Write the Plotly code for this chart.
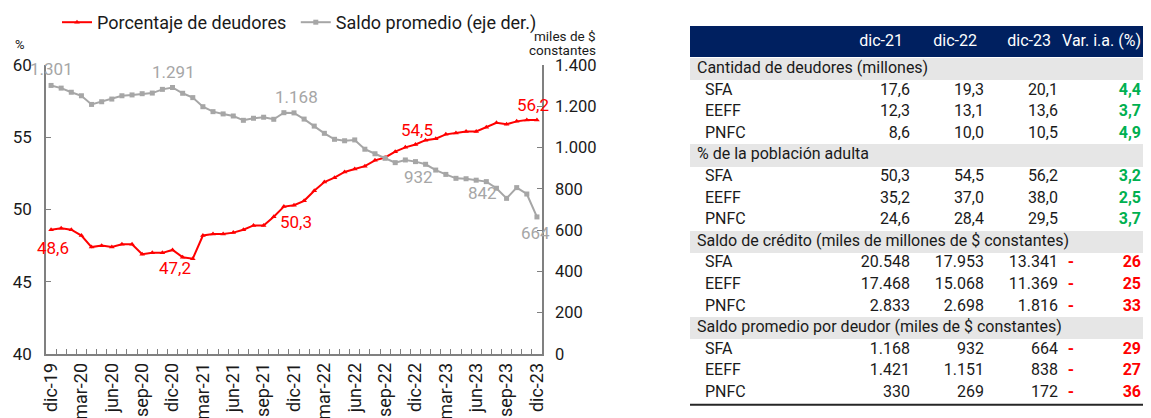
import plotly.graph_objects as go

# The page body adds an 8px offset; all positions below are given in window pixels
OFF = 8
WIN_W, WIN_H = 1151, 418
W, H = WIN_W - OFF, WIN_H - OFF


def px(x):
    return (x - OFF) / W


def py(y):
    return 1 - (y - OFF) / H


# ---------------- data: chart ----------------
categories = [
    "dic-19", "ene-20", "feb-20", "mar-20", "abr-20", "may-20", "jun-20", "jul-20", "ago-20", "sep-20", "oct-20", "nov-20",
    "dic-20", "ene-21", "feb-21", "mar-21", "abr-21", "may-21", "jun-21", "jul-21", "ago-21", "sep-21", "oct-21", "nov-21",
    "dic-21", "ene-22", "feb-22", "mar-22", "abr-22", "may-22", "jun-22", "jul-22", "ago-22", "sep-22", "oct-22", "nov-22",
    "dic-22", "ene-23", "feb-23", "mar-23", "abr-23", "may-23", "jun-23", "jul-23", "ago-23", "sep-23", "oct-23", "nov-23",
    "dic-23",
]
porcentaje_deudores = [
    48.6, 48.7, 48.6, 48.2, 47.4, 47.5, 47.4, 47.6, 47.6, 46.9, 47.0, 47.0,
    47.2, 46.7, 46.6, 48.2, 48.3, 48.3, 48.4, 48.6, 48.9, 48.9, 49.5, 50.2,
    50.3, 50.6, 51.3, 51.9, 52.2, 52.6, 52.8, 53.0, 53.4, 53.6, 54.0, 54.3,
    54.5, 54.8, 54.9, 55.2, 55.3, 55.4, 55.4, 55.7, 56.0, 55.9, 56.1, 56.2,
    56.2,
]
saldo_promedio = [
    1301, 1288, 1268, 1251, 1209, 1222, 1235, 1251, 1255, 1261, 1264, 1282,
    1291, 1263, 1242, 1198, 1174, 1163, 1153, 1132, 1142, 1147, 1137, 1169,
    1168, 1138, 1104, 1069, 1040, 1033, 1037, 992, 970, 948, 927, 940,
    932, 919, 891, 870, 851, 849, 842, 835, 803, 754, 806, 775,
    664,
]
x_tick_labels = ["dic-19", "mar-20", "jun-20", "sep-20", "dic-20", "mar-21", "jun-21", "sep-21",
                 "dic-21", "mar-22", "jun-22", "sep-22", "dic-22", "mar-23", "jun-23", "sep-23", "dic-23"]
pct_labelled = ["dic-19", "dic-20", "dic-21", "dic-22", "dic-23"]
saldo_labelled = ["dic-19", "dic-20", "dic-21", "dic-22", "jun-23", "dic-23"]

# ---------------- data: table ----------------
table_header = ["dic-21", "dic-22", "dic-23", "Var. i.a. (%)"]
table_sections = [
    "Cantidad de deudores (millones)",
    "% de la población adulta",
    "Saldo de crédito (miles de millones de $ constantes)",
    "Saldo promedio por deudor (miles de $ constantes)",
]
table_entities = ["SFA", "EEFF", "PNFC"]
tbl_dic21 = [17.6, 12.3, 8.6, 50.3, 35.2, 24.6, 20548, 17468, 2833, 1168, 1421, 330]
tbl_dic22 = [19.3, 13.1, 10.0, 54.5, 37.0, 28.4, 17953, 15068, 2698, 932, 1151, 269]
tbl_dic23 = [20.1, 13.6, 10.5, 56.2, 38.0, 29.5, 13341, 11369, 1816, 664, 838, 172]
tbl_var = [4.4, 3.7, 4.9, 3.2, 2.5, 3.7, -26, -25, -33, -29, -27, -36]
section_decimals = [1, 1, 0, 0]


def fmt(v, dec):
    if dec:
        return f"{v:.{dec}f}".replace(".", ",")
    return f"{v:,.0f}".replace(",", ".")


FONT = "Roboto"
RED = "#FF0000"
GRAY = "#A6A6A6"
AXIS = "#808080"
TXT = "#1a1a1a"
GREEN = "#00B050"
NAVY = "#002060"
BAND = "#E6E6E6"

fig = go.Figure()

fig.add_trace(go.Scatter(
    x=categories, y=porcentaje_deudores, name="Porcentaje de deudores\u00a0",
    mode="lines+markers", line=dict(color=RED, width=2),
    marker=dict(symbol="triangle-up", size=5, color=RED),
    xaxis="x", yaxis="y", cliponaxis=False,
))
fig.add_trace(go.Scatter(
    x=categories, y=saldo_promedio, name="Saldo promedio (eje der.)",
    mode="lines+markers", line=dict(color=GRAY, width=2),
    marker=dict(symbol="square", size=5, color=GRAY),
    xaxis="x", yaxis="y2", cliponaxis=False,
))

annotations = []
pct_shift = {"dic-19": (2, -18), "dic-20": (2, -18), "dic-21": (2, -17), "dic-22": (2, 14), "dic-23": (-4, 15)}
for c in pct_labelled:
    i = categories.index(c)
    dx, dy = pct_shift[c]
    annotations.append(dict(x=c, y=porcentaje_deudores[i], xref="x", yref="y",
                            text=fmt(porcentaje_deudores[i], 1), showarrow=False,
                            xanchor="center", yanchor="middle",
                            xshift=dx, yshift=dy, font=dict(family=FONT, size=17, color=RED)))
saldo_shift = {"dic-19": (0, 16), "dic-20": (1, 16), "dic-21": (2, 16), "dic-22": (3, -15),
               "jun-23": (6, -13), "dic-23": (-1, -16)}
for c in saldo_labelled:
    i = categories.index(c)
    dx, dy = saldo_shift[c]
    annotations.append(dict(x=c, y=saldo_promedio[i], xref="x", yref="y2",
                            text=fmt(saldo_promedio[i], 0), showarrow=False,
                            xanchor="center", yanchor="middle",
                            xshift=dx, yshift=dy, font=dict(family=FONT, size=17, color=GRAY)))

annotations.append(dict(x=px(20), y=py(45), xref="paper", yref="paper", text="%", showarrow=False,
                        xanchor="center", yanchor="middle", font=dict(family=FONT, size=13, color=TXT)))
annotations.append(dict(x=px(598), y=py(36), xref="paper", yref="paper", text="miles de $",
                        showarrow=False, xanchor="right", yanchor="middle",
                        font=dict(family=FONT, size=13.5, color=TXT)))
annotations.append(dict(x=px(598), y=py(50), xref="paper", yref="paper", text="constantes",
                        showarrow=False, xanchor="right", yanchor="middle",
                        font=dict(family=FONT, size=13.5, color=TXT)))

# ---------------- table (hidden axes x2 / y3, 1 unit = 1 window px) ----------------
T_LEFT, T_RIGHT = 690, WIN_W
HEADER_Y, HEADER_H = 41.5, 31
ROW0_Y, ROW_H = 69, 21.6
COL_RIGHT = [910, 984, 1058]
HEAD_RIGHT = [903, 977, 1051, 1141]
SIGN_X, VAR_RIGHT = 1071, 1141
SEC_X, ENT_X = 697, 705
TFS = 16

fig.add_trace(go.Bar(orientation="h", y=[HEADER_Y], x=[T_RIGHT - T_LEFT], base=[T_LEFT], width=[HEADER_H],
                     marker=dict(color=NAVY, line=dict(width=0)), xaxis="x2", yaxis="y3",
                     showlegend=False, hoverinfo="skip"))
sec_rows = [ROW0_Y + ROW_H * 4 * k for k in range(len(table_sections))]
fig.add_trace(go.Bar(orientation="h", y=sec_rows, x=[T_RIGHT - T_LEFT] * len(sec_rows),
                     base=[T_LEFT] * len(sec_rows), width=[22.5] * len(sec_rows),
                     marker=dict(color=BAND, line=dict(width=0)), xaxis="x2", yaxis="y3",
                     showlegend=False, hoverinfo="skip"))

fig.add_trace(go.Scatter(x=HEAD_RIGHT, y=[HEADER_Y] * 4, text=table_header, mode="text",
                         textposition="middle left", textfont=dict(family=FONT, size=TFS, color="white"),
                         xaxis="x2", yaxis="y3", showlegend=False, hoverinfo="skip", cliponaxis=False))

lab_x, lab_y, lab_t = [], [], []
cols = [([], [], []) for _ in range(3)]
sign_y, var_y, var_t, var_c = [], [], [], []
row = 0
for s, sec in enumerate(table_sections):
    lab_x.append(SEC_X); lab_y.append(ROW0_Y + ROW_H * row); lab_t.append(sec)
    row += 1
    for e, ent in enumerate(table_entities):
        k = s * 3 + e
        y = ROW0_Y + ROW_H * row
        lab_x.append(ENT_X); lab_y.append(y); lab_t.append(ent)
        for j, arr in enumerate([tbl_dic21, tbl_dic22, tbl_dic23]):
            cols[j][0].append(COL_RIGHT[j]); cols[j][1].append(y)
            cols[j][2].append(fmt(arr[k], section_decimals[s]))
        v = tbl_var[k]
        var_y.append(y)
        var_t.append("<b>" + fmt(abs(v), section_decimals[s] if v > 0 else 0) + "</b>")
        var_c.append(GREEN if v > 0 else RED)
        if v < 0:
            sign_y.append(y)
        row += 1

fig.add_trace(go.Scatter(x=lab_x, y=lab_y, text=lab_t, mode="text", textposition="middle right",
                         textfont=dict(family=FONT, size=TFS, color=TXT),
                         xaxis="x2", yaxis="y3", showlegend=False, hoverinfo="skip", cliponaxis=False))
for j in range(3):
    fig.add_trace(go.Scatter(x=cols[j][0], y=cols[j][1], text=cols[j][2], mode="text",
                             textposition="middle left", textfont=dict(family=FONT, size=TFS, color=TXT),
                             xaxis="x2", yaxis="y3", showlegend=False, hoverinfo="skip", cliponaxis=False))
fig.add_trace(go.Scatter(x=[SIGN_X] * len(sign_y), y=sign_y, text=["<b>-</b>"] * len(sign_y), mode="text",
                         textposition="middle center", textfont=dict(family=FONT, size=TFS, color=RED),
                         xaxis="x2", yaxis="y3", showlegend=False, hoverinfo="skip", cliponaxis=False))
fig.add_trace(go.Scatter(x=[VAR_RIGHT] * len(var_y), y=var_y, text=var_t, mode="text",
                         textposition="middle left", textfont=dict(family=FONT, size=TFS, color=var_c),
                         xaxis="x2", yaxis="y3", showlegend=False, hoverinfo="skip", cliponaxis=False))

last_bottom = ROW0_Y + ROW_H * (row - 1) + ROW_H / 2 + 1
shapes = [dict(type="line", xref="x2", yref="y3", x0=T_LEFT, x1=T_RIGHT, y0=last_bottom, y1=last_bottom,
               line=dict(color="#262626", width=2))]

tick_text = [c if c in x_tick_labels else "" for c in categories]

fig.update_layout(
    width=W, height=H, margin=dict(l=0, r=0, t=0, b=0, autoexpand=False),
    paper_bgcolor="white", plot_bgcolor="white",
    separators=",.",
    font=dict(family=FONT, color=TXT),
    showlegend=True,
    legend=dict(orientation="h", x=px(57), y=py(4), xanchor="left", yanchor="top",
                font=dict(family=FONT, size=18, color=TXT), bgcolor="rgba(0,0,0,0)",
                itemwidth=30, tracegroupgap=0),
    xaxis=dict(domain=[px(46), px(542)], anchor="y", type="category",
               range=[-0.5, len(categories) - 0.5],
               tickmode="array", tickvals=categories, ticktext=tick_text,
               tickson="boundaries", ticks="inside", ticklen=5, tickcolor=AXIS, tickwidth=1,
               showline=True, linecolor=AXIS, linewidth=1.5, showgrid=False, zeroline=False,
               tickangle=-90, tickfont=dict(family=FONT, size=18, color=TXT), automargin=False),
    yaxis=dict(domain=[py(354), py(65)], anchor="x", range=[40, 60], dtick=5, tick0=40,
               ticks="inside", ticklen=5, tickcolor=AXIS, showline=True, linecolor=AXIS, linewidth=1.5,
               showgrid=False, zeroline=False, tickfont=dict(family=FONT, size=17, color=TXT),
               ticklabelstandoff=9, automargin=False),
    yaxis2=dict(overlaying="y", side="right", anchor="x", range=[0, 1400], dtick=200, tick0=0,
                tickformat=",d", ticks="inside", ticklen=5, tickcolor=AXIS, showline=True,
                linecolor=AXIS, linewidth=1.5, showgrid=False, zeroline=False,
                tickfont=dict(family=FONT, size=16.5, color=TXT), ticklabelstandoff=8, automargin=False),
    xaxis2=dict(domain=[px(680), 1], anchor="y3", range=[680, WIN_W], visible=False, fixedrange=True),
    yaxis3=dict(domain=[0, 1], anchor="x2", range=[WIN_H, OFF], visible=False, fixedrange=True),
    annotations=annotations,
    shapes=shapes,
    bargap=0,
)

fig.write_html("out.html")
